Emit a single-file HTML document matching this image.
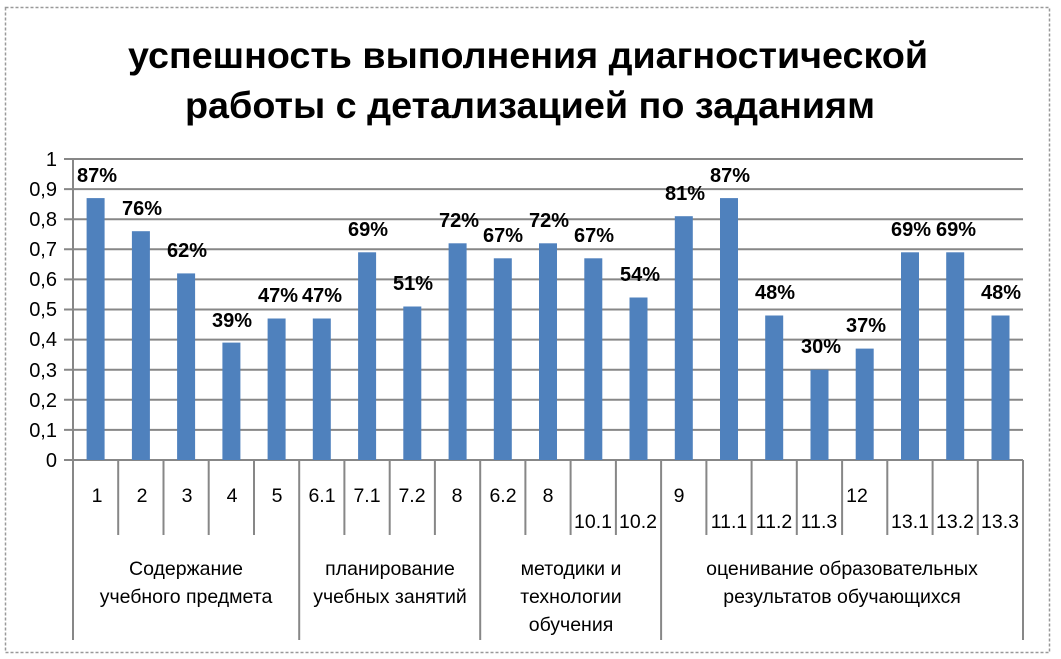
<!DOCTYPE html>
<html><head><meta charset="utf-8"><style>
html,body{margin:0;padding:0;background:#fff;}
svg{display:block;}
text{font-family:"Liberation Sans","DejaVu Sans",sans-serif;}
</style></head><body>
<svg width="1061" height="659" viewBox="0 0 1061 659" xmlns="http://www.w3.org/2000/svg">
<rect x="0" y="0" width="1061" height="659" fill="#fff"/>
<rect x="5.5" y="7.5" width="1044" height="645" fill="none" stroke="#999" stroke-width="1.5" stroke-dasharray="3,2"/>
<g font-weight="bold" font-size="37" text-anchor="middle" fill="#000">
<text x="528" y="68" textLength="800" lengthAdjust="spacingAndGlyphs">успешность выполнения диагностической</text>
<text x="530" y="118" textLength="690" lengthAdjust="spacingAndGlyphs">работы с детализацией по заданиям</text>
</g>
<g stroke="#878787" stroke-width="2">
<line x1="64" y1="159" x2="1023" y2="159"/>
<line x1="64" y1="189.1" x2="1023" y2="189.1"/>
<line x1="64" y1="219.2" x2="1023" y2="219.2"/>
<line x1="64" y1="249.3" x2="1023" y2="249.3"/>
<line x1="64" y1="279.4" x2="1023" y2="279.4"/>
<line x1="64" y1="309.5" x2="1023" y2="309.5"/>
<line x1="64" y1="339.6" x2="1023" y2="339.6"/>
<line x1="64" y1="369.7" x2="1023" y2="369.7"/>
<line x1="64" y1="399.8" x2="1023" y2="399.8"/>
<line x1="64" y1="429.9" x2="1023" y2="429.9"/>
<line x1="64" y1="460" x2="1023" y2="460"/>
<line x1="73" y1="159" x2="73" y2="460"/>
</g>
<g font-size="20" text-anchor="end" fill="#000">
<text x="57" y="166">1</text><text x="57" y="196">0,9</text><text x="57" y="226">0,8</text><text x="57" y="256">0,7</text><text x="57" y="286">0,6</text><text x="57" y="316">0,5</text><text x="57" y="346">0,4</text><text x="57" y="377">0,3</text><text x="57" y="407">0,2</text><text x="57" y="437">0,1</text><text x="57" y="467">0</text>
</g>
<g fill="#4f81bd">
<rect x="86.6" y="198.1" width="18" height="261.9"/>
<rect x="131.9" y="231.2" width="18" height="228.8"/>
<rect x="177.1" y="273.4" width="18" height="186.6"/>
<rect x="222.4" y="342.6" width="18" height="117.4"/>
<rect x="267.6" y="318.5" width="18" height="141.5"/>
<rect x="312.8" y="318.5" width="18" height="141.5"/>
<rect x="358.1" y="252.3" width="18" height="207.7"/>
<rect x="403.3" y="306.5" width="18" height="153.5"/>
<rect x="448.6" y="243.3" width="18" height="216.7"/>
<rect x="493.8" y="258.3" width="18" height="201.7"/>
<rect x="539" y="243.3" width="18" height="216.7"/>
<rect x="584.3" y="258.3" width="18" height="201.7"/>
<rect x="629.5" y="297.5" width="18" height="162.5"/>
<rect x="674.8" y="216.2" width="18" height="243.8"/>
<rect x="720" y="198.1" width="18" height="261.9"/>
<rect x="765.2" y="315.5" width="18" height="144.5"/>
<rect x="810.5" y="369.7" width="18" height="90.3"/>
<rect x="855.7" y="348.6" width="18" height="111.4"/>
<rect x="901" y="252.3" width="18" height="207.7"/>
<rect x="946.2" y="252.3" width="18" height="207.7"/>
<rect x="991.5" y="315.5" width="18" height="144.5"/>
</g>
<g font-size="20" font-weight="bold" text-anchor="middle" fill="#000">
<text x="97" y="182">87%</text>
<text x="142" y="215">76%</text>
<text x="187" y="257">62%</text>
<text x="232" y="327">39%</text>
<text x="278" y="302">47%</text>
<text x="322" y="302">47%</text>
<text x="368" y="236">69%</text>
<text x="413" y="290">51%</text>
<text x="459" y="227">72%</text>
<text x="503" y="242">67%</text>
<text x="549" y="227">72%</text>
<text x="594" y="242">67%</text>
<text x="640" y="281">54%</text>
<text x="685" y="200">81%</text>
<text x="730" y="182">87%</text>
<text x="775" y="299">48%</text>
<text x="821" y="353">30%</text>
<text x="866" y="332">37%</text>
<text x="911" y="236">69%</text>
<text x="956" y="236">69%</text>
<text x="1001" y="299">48%</text>
</g>
<g stroke="#878787" stroke-width="2">
<line x1="73" y1="460" x2="73" y2="640"/>
<line x1="118.2" y1="460" x2="118.2" y2="535"/>
<line x1="163.5" y1="460" x2="163.5" y2="535"/>
<line x1="208.7" y1="460" x2="208.7" y2="535"/>
<line x1="254" y1="460" x2="254" y2="535"/>
<line x1="299.2" y1="460" x2="299.2" y2="640"/>
<line x1="344.4" y1="460" x2="344.4" y2="535"/>
<line x1="389.7" y1="460" x2="389.7" y2="535"/>
<line x1="434.9" y1="460" x2="434.9" y2="535"/>
<line x1="480.2" y1="460" x2="480.2" y2="640"/>
<line x1="525.4" y1="460" x2="525.4" y2="535"/>
<line x1="570.6" y1="460" x2="570.6" y2="535"/>
<line x1="615.9" y1="460" x2="615.9" y2="535"/>
<line x1="661.1" y1="460" x2="661.1" y2="640"/>
<line x1="706.4" y1="460" x2="706.4" y2="535"/>
<line x1="751.6" y1="460" x2="751.6" y2="535"/>
<line x1="796.8" y1="460" x2="796.8" y2="535"/>
<line x1="842.1" y1="460" x2="842.1" y2="535"/>
<line x1="887.3" y1="460" x2="887.3" y2="535"/>
<line x1="932.6" y1="460" x2="932.6" y2="535"/>
<line x1="977.8" y1="460" x2="977.8" y2="535"/>
<line x1="1023" y1="460" x2="1023" y2="640"/>
</g>
<g font-size="19.5" text-anchor="middle" fill="#000">
<text x="97" y="502">1</text>
<text x="142" y="502">2</text>
<text x="187" y="502">3</text>
<text x="232" y="502">4</text>
<text x="277" y="502">5</text>
<text x="322" y="502">6.1</text>
<text x="367" y="502">7.1</text>
<text x="412" y="502">7.2</text>
<text x="457" y="502">8</text>
<text x="503" y="502">6.2</text>
<text x="548" y="502">8</text>
<text x="593" y="528">10.1</text>
<text x="638" y="528">10.2</text>
<text x="679" y="502">9</text>
<text x="729" y="528">11.1</text>
<text x="774" y="528">11.2</text>
<text x="819" y="528">11.3</text>
<text x="857" y="502">12</text>
<text x="910" y="528">13.1</text>
<text x="955" y="528">13.2</text>
<text x="1000" y="528">13.3</text>
</g>
<g font-size="19.5" text-anchor="middle" fill="#000">
<text x="186" y="575">Содержание</text>
<text x="186" y="603">учебного предмета</text>
<text x="390" y="575">планирование</text>
<text x="390" y="603">учебных занятий</text>
<text x="571" y="575">методики и</text>
<text x="571" y="603">технологии</text>
<text x="571" y="631">обучения</text>
<text x="842" y="575">оценивание образовательных</text>
<text x="842" y="603">результатов обучающихся</text>
</g>
</svg>
</body></html>
